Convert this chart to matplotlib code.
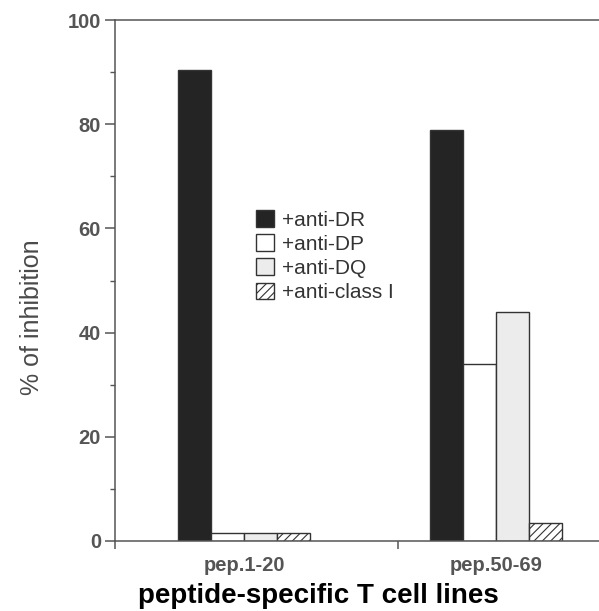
import numpy as np
import matplotlib
matplotlib.use("Agg")
import matplotlib.pyplot as plt
from matplotlib.ticker import MultipleLocator, FixedLocator

plt.rcParams["font.family"] = ["Liberation Sans", "DejaVu Sans"]
plt.rcParams["hatch.color"] = "#555555"
plt.rcParams["hatch.linewidth"] = 0.8

# Datos
grupos = ["pep.1-20", "pep.50-69"]
series = ["+anti-DR", "+anti-DP", "+anti-DQ", "+anti-class I"]
anti_dr = [90.5, 79]
anti_dp = [1.5, 34]
anti_dq = [1.5, 44]
anti_clase1 = [1.5, 3.5]

valores = [anti_dr, anti_dp, anti_dq, anti_clase1]
colores = ["#242424", "white", "#ececec", "white"]
tramas = [None, None, None, "////"]

fig = plt.figure(figsize=(5.99, 6.11), dpi=100)
ax = fig.add_axes([0.192, 0.1146, 0.808, 0.8524])

x = np.arange(len(grupos))
ancho = 0.131
for i, (vals, col, tr, nombre) in enumerate(zip(valores, colores, tramas, series)):
    ax.bar(x + (i - 1.5) * ancho, vals, ancho, color=col, hatch=tr,
           edgecolor="#333333", linewidth=1.0, label=nombre)

ax.set_xlim(-0.512, 1.409)
ax.set_ylim(0, 100)

# Ejes
ax.spines["right"].set_visible(False)
for lado in ["left", "top", "bottom"]:
    ax.spines[lado].set_color("#555555")
    ax.spines[lado].set_linewidth(1.1)

ax.yaxis.set_major_locator(MultipleLocator(20))
ax.yaxis.set_minor_locator(MultipleLocator(10))
ax.tick_params(axis="y", which="major", length=7, width=1.1, color="#555555",
               labelsize=14.5, labelcolor="#555555", pad=3)
ax.tick_params(axis="y", which="minor", length=3.5, width=1.0, color="#555555")
for t in ax.get_yticklabels():
    t.set_fontweight("bold")

ax.set_xticks(x)
ax.set_xticklabels(grupos, fontsize=14.5, fontweight="bold", color="#555555")
ax.tick_params(axis="x", which="major", length=0, pad=11)
ax.xaxis.set_minor_locator(FixedLocator([-0.512, 0.611]))
ax.tick_params(axis="x", which="minor", length=5.5, width=1.1, color="#555555")

ax.set_xlabel("peptide-specific T cell lines", fontsize=20, fontweight="bold",
              color="black")
ax.xaxis.set_label_coords(0.42, -0.081)
ax.text(-0.172, 0.43, "% of inhibition", transform=ax.transAxes, rotation=90,
        ha="center", va="center", fontsize=18, color="#4a4a4a")

leg = ax.legend(loc="upper left", bbox_to_anchor=(0.27, 0.655), frameon=False,
                fontsize=15, handlelength=0.85, handleheight=0.85,
                handletextpad=0.4, labelspacing=0.22, borderpad=0)
for t in leg.get_texts():
    t.set_color("#333333")

fig.savefig("out.png", dpi=100)
